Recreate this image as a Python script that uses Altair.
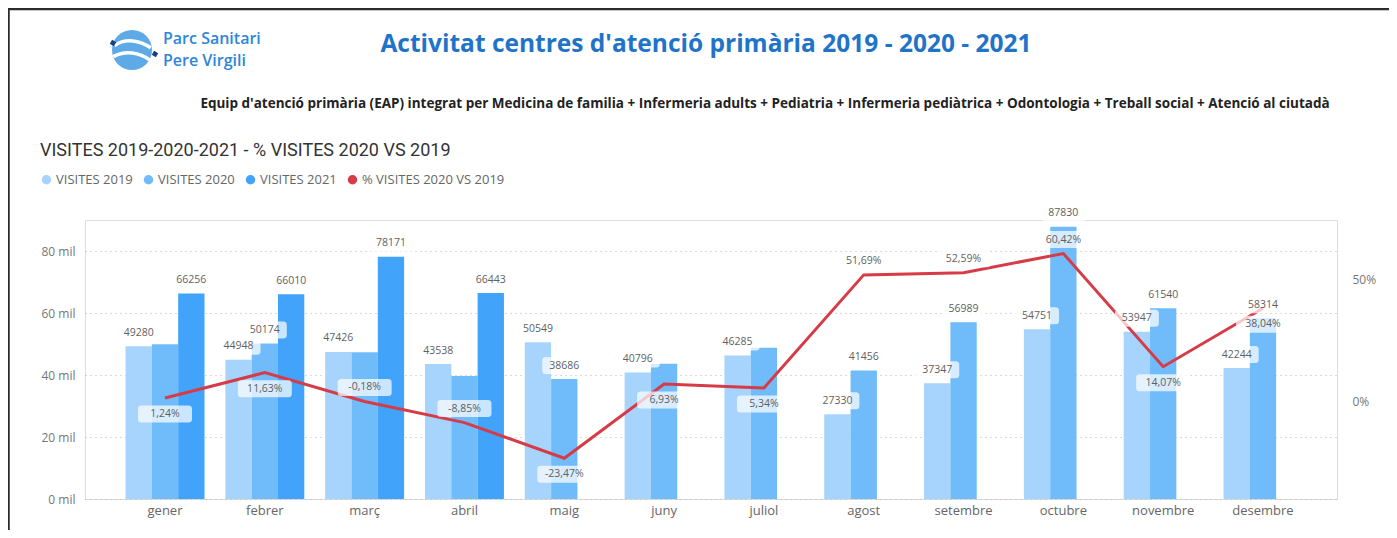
import altair as alt
import pandas as pd

# ---------------- data ----------------
months = ["gener", "febrer", "març", "abril", "maig", "juny", "juliol",
          "agost", "setembre", "octubre", "novembre", "desembre"]
visites_2019 = [49280, 44948, 47426, 43538, 50549, 40796, 46285, 27330, 37347, 54751, 53947, 42244]
visites_2020 = [49891, 50174, 47341, 39685, 38686, 43623, 48757, 41456, 56989, 87830, 61540, 58314]
visites_2021 = [66256, 66010, 78171, 66443, None, None, None, None, None, None, None, None]
pct_2020_vs_2019 = [1.24, 11.63, -0.18, -8.85, -23.47, 6.93, 5.34, 51.69, 52.59, 60.42, 14.07, 38.04]
label_2020_shown = [False, True, False, False, True, False, False, True, True, True, True, True]
pct_label_side = ["below", "below", "above", "above", "below", "below", "below",
                  "above", "above", "above", "below", "below"]
series_names = ["VISITES 2019", "VISITES 2020", "VISITES 2021", "% VISITES 2020 VS 2019"]
left_ticks = [0, 20000, 40000, 60000, 80000]
right_ticks = [0, 50]

title_text = "Activitat centres d'atenció primària 2019 - 2020 - 2021"
subtitle_text = ("Equip d'atenció primària (EAP) integrat per  Medicina de familia + Infermeria adults + "
                 "Pediatria + Infermeria pediàtrica + Odontologia + Treball social + Atenció al ciutadà")
chart_title_text = "VISITES 2019-2020-2021 - % VISITES 2020 VS 2019"
logo_line1 = "Parc Sanitari"
logo_line2 = "Pere Virgili"

# ---------------- tables ----------------
rows = []
for i, m in enumerate(months):
    for s, vals in zip(series_names[:3], [visites_2019, visites_2020, visites_2021]):
        v = vals[i]
        if v is None:
            continue
        shown = label_2020_shown[i] if s == "VISITES 2020" else True
        rows.append({"month": m, "series": s, "value": v, "shown": shown, "label": str(v)})
bars_df = pd.DataFrame(rows)
pct_df = pd.DataFrame({
    "month": months,
    "pct": pct_2020_vs_2019,
    "side": pct_label_side,
    "label": [f"{p:.2f}".replace(".", ",") + "%" for p in pct_2020_vs_2019],
})

# ---------------- styles ----------------
FONT = "Open Sans"
colors = ["#a6d4fc", "#70bcfb", "#41a4fa", "#d63b47"]
LEFT_DOMAIN = [0, 90000]
RIGHT_DOMAIN = [-40.16, 74.18]

x_axis = alt.Axis(title=None, domain=False, ticks=False, labelAngle=0,
                  labelColor="#666666", labelFontSize=13, labelFont=FONT, labelPadding=5)
x_scale = alt.Scale(domain=months, paddingInner=0.209, paddingOuter=0.376, align=0.54)
x_enc = alt.X("month:N", sort=months, scale=x_scale, axis=x_axis)
xoff_enc = alt.XOffset("series:N", sort=series_names[:3],
                       scale=alt.Scale(domain=series_names[:3], paddingInner=0, paddingOuter=0))
left_scale = alt.Scale(domain=LEFT_DOMAIN, nice=False, zero=False)
right_scale = alt.Scale(domain=RIGHT_DOMAIN, nice=False, zero=False)

left_axis = alt.Axis(values=left_ticks, labelExpr="format(datum.value/1000,'d') + ' mil'",
                     grid=True, gridDash=[1, 4], gridColor="#b5b5b5", gridWidth=1,
                     domain=False, ticks=False, labelColor="#777777", labelFontSize=12,
                     labelFont=FONT, labelPadding=10, title=None, orient="left")
right_axis = alt.Axis(values=right_ticks, labelExpr="datum.value + '%'", grid=False,
                      domain=False, ticks=False, labelColor="#777777", labelFontSize=12,
                      labelFont=FONT, labelPadding=15, title=None, orient="right")

bars = alt.Chart(bars_df).mark_bar().encode(
    x=x_enc, xOffset=xoff_enc,
    y=alt.Y("value:Q", scale=left_scale, axis=left_axis),
    color=alt.Color("series:N", scale=alt.Scale(domain=series_names, range=colors),
                    legend=alt.Legend(orient="none", legendX=-45, legendY=-47,
                                      direction="horizontal", title=None,
                                      symbolType="circle", symbolSize=90,
                                      symbolStrokeWidth=0, labelFontSize=13,
                                      labelColor="#666666", labelFont=FONT,
                                      columnPadding=9, labelOffset=3)),
)

line = alt.Chart(pct_df).mark_line(color=colors[3], strokeWidth=3).encode(
    x=x_enc,
    y=alt.Y("pct:Q", scale=right_scale, axis=right_axis),
)

def box_path(w, h, r):
    s = w / 2.0
    hx, hy, rr = 1.0, (h / 2.0) / s, r / s
    return (f"M{-hx+rr},{-hy} L{hx-rr},{-hy} Q{hx},{-hy} {hx},{-hy+rr} "
            f"L{hx},{hy-rr} Q{hx},{hy} {hx-rr},{hy} L{-hx+rr},{hy} "
            f"Q{-hx},{hy} {-hx},{hy-rr} L{-hx},{-hy+rr} Q{-hx},{-hy} {-hx+rr},{-hy} Z")

bar_boxes = alt.Chart(bars_df).transform_filter("datum.shown").mark_point(
    shape=box_path(44, 17, 3.5), size=44 ** 2, filled=True, color="white",
    fillOpacity=0.72, strokeWidth=0, opacity=1, yOffset=-13.5,
).encode(x=x_enc, xOffset=xoff_enc,
         y=alt.Y("value:Q", scale=left_scale, axis=None))

bar_texts = alt.Chart(bars_df).transform_filter("datum.shown").mark_text(
    dy=-13.5, baseline="middle", fontSize=10.5, font=FONT, color="#5f5f5f",
).encode(x=x_enc, xOffset=xoff_enc,
         y=alt.Y("value:Q", scale=left_scale, axis=None), text="label:N")

pct_layers = []
for side, off in [("below", 16), ("above", -14)]:
    pct_layers.append(
        alt.Chart(pct_df).transform_filter(f"datum.side == '{side}'").mark_point(
            shape=box_path(54, 17, 3.5), size=54 ** 2, filled=True, color="white",
            fillOpacity=0.72, strokeWidth=0, opacity=1, yOffset=off,
        ).encode(x=x_enc, y=alt.Y("pct:Q", scale=right_scale, axis=None))
    )
    pct_layers.append(
        alt.Chart(pct_df).transform_filter(f"datum.side == '{side}'").mark_text(
            dy=off, baseline="middle", fontSize=10.5, font=FONT, color="#5f5f5f",
        ).encode(x=x_enc, y=alt.Y("pct:Q", scale=right_scale, axis=None), text="label:N")
    )

# ---------------- header decorations ----------------
def header_text(txt, x, y, **kw):
    return alt.Chart(pd.DataFrame({"t": [txt]})).mark_text(**kw).encode(
        x=alt.value(x), y=alt.value(y), text="t:N")

title_l = header_text(title_text, 621, -175, font=FONT, fontSize=24.5, fontWeight="bold",
                      color="#1f74c9", align="center", baseline="middle")
subtitle_l = header_text(subtitle_text, 680, -116, font=FONT, fontSize=13.5, fontWeight="bold",
                         color="#222222", align="center", baseline="middle")
chart_title_l = header_text(chart_title_text, -45, -69, font="Roboto", fontSize=18,
                            color="#333333", align="left", baseline="middle")
logo_t1 = header_text(logo_line1, 78, -181, font=FONT, fontSize=16, fontWeight=600,
                      color="#2e86d9", align="left", baseline="middle")
logo_t2 = header_text(logo_line2, 78, -159, font=FONT, fontSize=16, fontWeight=600,
                      color="#2e86d9", align="left", baseline="middle")

one = pd.DataFrame({"k": [0]})
logo_circle = alt.Chart(one).mark_point(shape="circle", size=40 ** 2, filled=True,
                                        color="#5eaae6", opacity=1).encode(
    x=alt.value(47), y=alt.value(-170))
logo_stripes = alt.Chart(one).mark_point(
    shape="M-0.8,-0.2 C-0.3,-0.55 0.35,-0.45 0.85,-0.1 M-0.85,0.3 C-0.3,0.0 0.35,0.1 0.8,0.45",
    size=44 ** 2, filled=False, color="white", strokeWidth=3.5, opacity=1).encode(
    x=alt.value(47), y=alt.value(-170))
logo_tick1 = alt.Chart(one).mark_point(
    shape="square", size=22, filled=True, color="#1c3f7c", opacity=1, angle=30).encode(
    x=alt.value(28), y=alt.value(-177))
logo_tick2 = alt.Chart(one).mark_point(
    shape="square", size=22, filled=True, color="#1c3f7c", opacity=1, angle=30).encode(
    x=alt.value(70), y=alt.value(-166))

border_left = alt.Chart(one).mark_rule(color="#2b2b2b", strokeWidth=2.5).encode(
    x=alt.value(-76.5), y=alt.value(-212), y2=alt.value(310))
border_top = alt.Chart(one).mark_rule(color="#2b2b2b", strokeWidth=2.5).encode(
    x=alt.value(-77), x2=alt.value(1304), y=alt.value(-211))

chart = alt.layer(
    bars, line, bar_boxes, bar_texts, *pct_layers,
    title_l, subtitle_l, chart_title_l, logo_circle, logo_stripes, logo_tick1, logo_tick2,
    logo_t1, logo_t2, border_left, border_top,
).resolve_scale(y="independent", x="shared").properties(
    width=1252, height=279,
    padding={"left": 77, "top": 212, "right": 52, "bottom": 31},
    autosize="none",
).configure_view(stroke=None).configure(background="white")

chart.save("out.html", embed_options={"renderer": "svg", "actions": False})
